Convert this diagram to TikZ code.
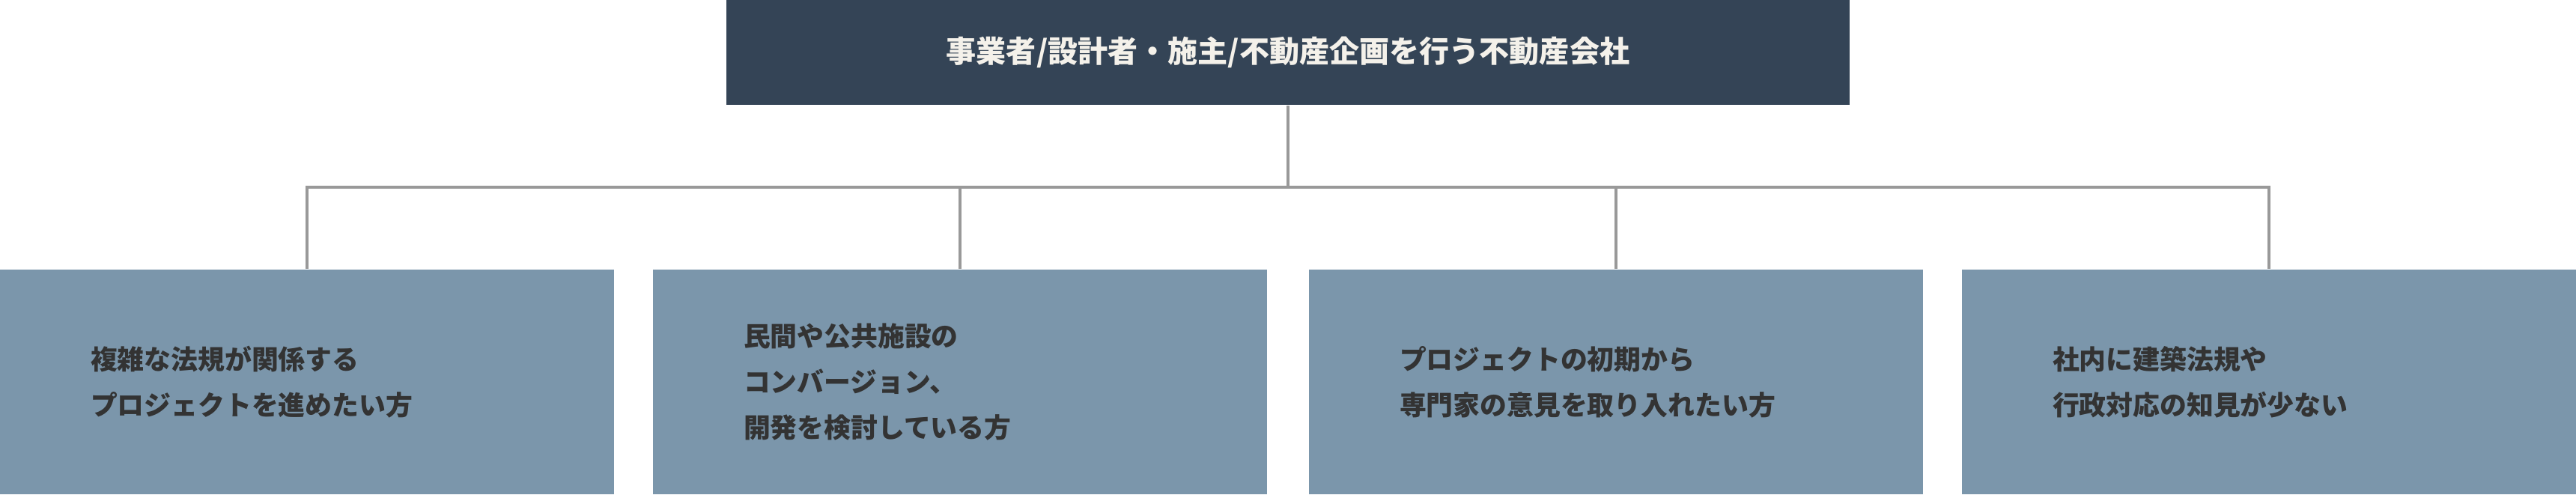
\documentclass[tikz,border=0pt]{standalone}
\usepackage{fontspec}
\setmainfont{Noto Sans CJK JP}
\definecolor{headcol}{HTML}{344456}
\definecolor{boxcol}{HTML}{7B96AB}
\definecolor{linecol}{HTML}{999999}
\definecolor{inkcol}{HTML}{333333}
\definecolor{paper}{HTML}{F4F1EA}
\tikzset{
  headbox/.style={fill=headcol, text=paper, minimum width=15cm, minimum height=1.4cm,
    inner sep=0pt, font=\fontsize{11.4pt}{14pt}\selectfont\bfseries},
  userbox/.style={fill=boxcol, text=inkcol, text width=5.78cm, inner xsep=1.21cm, inner ysep=0pt,
    minimum height=3cm, align=left, font=\fontsize{10.2pt}{17.4pt}\selectfont\bfseries},
  busline/.style={draw=linecol, line width=1pt}
}
\begin{document}
\begin{tikzpicture}
\useasboundingbox (0,0) rectangle (34.4,-6.6);
% company
\node[headbox] (firm) at (17.2,-0.7) {事業者/設計者・施主/不動産企画を行う不動産会社};
%
\node[userbox] (law) at (4.1,-5.1) {複雑な法規が関係する\\プロジェクトを進めたい方};
\node[userbox] (conv) at (12.82,-5.1) {民間や公共施設の\\コンバージョン、\\開発を検討している方};
\node[userbox] (early) at (21.58,-5.1) {プロジェクトの初期から\\専門家の意見を取り入れたい方};
\node[userbox] (admin) at (30.3,-5.1) {社内に建築法規や\\行政対応の知見が少ない};
%
\coordinate (bus) at (17.2,-2.5);
\draw[busline] (firm.south) -- (bus);
\draw[busline] (law.north) |- (bus) -| (admin.north);
\draw[busline] (conv.north) -- (conv.north |- bus);
\draw[busline] (early.north) -- (early.north |- bus);
\end{tikzpicture}
\end{document}
